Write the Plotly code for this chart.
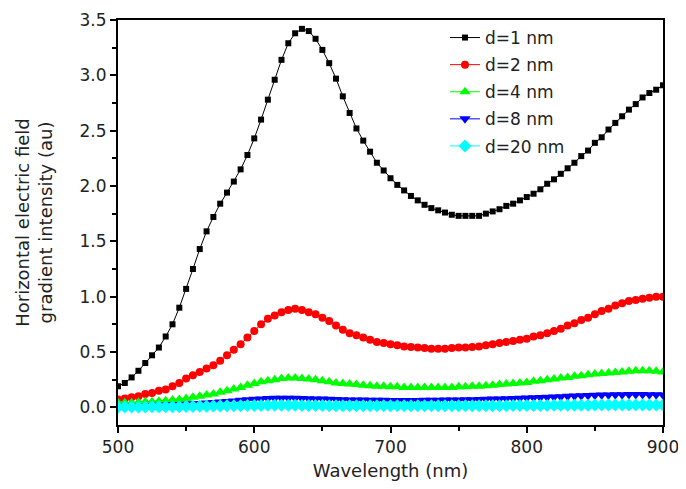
import plotly.graph_objects as go


####################################################
# DADOS
####################################################

wavelength = list(range(500, 905, 5))

d1 = [
    0.19, 0.22, 0.27, 0.33, 0.40, 0.47, 0.54, 0.64, 0.75, 0.90,
    1.07, 1.25, 1.43, 1.59, 1.72, 1.84, 1.94, 2.04, 2.15, 2.28,
    2.43, 2.60, 2.78, 2.96, 3.14, 3.29, 3.38, 3.42, 3.40, 3.33,
    3.23, 3.11, 2.97, 2.81, 2.66, 2.52, 2.41, 2.31, 2.21, 2.14,
    2.07, 2.01, 1.96, 1.91, 1.87, 1.83, 1.80, 1.78, 1.76, 1.74,
    1.73, 1.73, 1.73, 1.73, 1.75, 1.77, 1.79, 1.82, 1.84, 1.87,
    1.90, 1.93, 1.97, 2.02, 2.06, 2.11, 2.16, 2.21, 2.27, 2.32,
    2.39, 2.44, 2.51, 2.57, 2.63, 2.69, 2.74, 2.80, 2.84, 2.87,
    2.91
]

d2 = [
    0.07, 0.08, 0.09, 0.10, 0.12, 0.13, 0.15, 0.16, 0.19, 0.22,
    0.26, 0.29, 0.32, 0.35, 0.38, 0.42, 0.47, 0.52, 0.57, 0.63,
    0.69, 0.75, 0.80, 0.83, 0.86, 0.88, 0.89, 0.88, 0.86, 0.84,
    0.81, 0.78, 0.74, 0.70, 0.67, 0.65, 0.63, 0.61, 0.59, 0.58,
    0.57, 0.56, 0.55, 0.545, 0.54, 0.535, 0.53, 0.53, 0.53, 0.535,
    0.54, 0.54, 0.545, 0.55, 0.56, 0.57, 0.58, 0.59, 0.60, 0.61,
    0.62, 0.64, 0.65, 0.67, 0.69, 0.71, 0.74, 0.76, 0.79, 0.81,
    0.84, 0.87, 0.89, 0.92, 0.94, 0.96, 0.97, 0.98, 0.99, 1.00,
    1.00
]

d4 = [
    0.04, 0.04, 0.04, 0.045, 0.05, 0.05, 0.055, 0.06, 0.065, 0.07,
    0.08, 0.09, 0.10, 0.11, 0.12, 0.135, 0.15, 0.165, 0.18, 0.20,
    0.215, 0.23, 0.24, 0.25, 0.26, 0.265, 0.265, 0.26, 0.255, 0.25,
    0.24, 0.23, 0.22, 0.215, 0.21, 0.205, 0.20, 0.195, 0.19, 0.19,
    0.185, 0.185, 0.18, 0.18, 0.18, 0.18, 0.18, 0.18, 0.18, 0.18,
    0.185, 0.185, 0.19, 0.19, 0.195, 0.20, 0.205, 0.21, 0.215, 0.22,
    0.225, 0.235, 0.24, 0.25, 0.255, 0.265, 0.27, 0.28, 0.285, 0.295,
    0.30, 0.305, 0.31, 0.315, 0.32, 0.325, 0.33, 0.33, 0.33, 0.325,
    0.32
]

d8 = [
    0.010, 0.010, 0.010, 0.012, 0.014, 0.016, 0.018, 0.020, 0.022, 0.025,
    0.028, 0.031, 0.035, 0.039, 0.043, 0.048, 0.053, 0.058, 0.063, 0.068,
    0.072, 0.076, 0.079, 0.081, 0.082, 0.082, 0.081, 0.080, 0.078, 0.076,
    0.074, 0.072, 0.070, 0.068, 0.067, 0.066, 0.065, 0.064, 0.063, 0.063,
    0.062, 0.062, 0.062, 0.062, 0.062, 0.063, 0.063, 0.064, 0.065, 0.066,
    0.067, 0.068, 0.069, 0.071, 0.072, 0.074, 0.076, 0.078, 0.080, 0.082,
    0.084, 0.086, 0.089, 0.091, 0.094, 0.096, 0.099, 0.101, 0.104, 0.106,
    0.108, 0.110, 0.112, 0.113, 0.114, 0.115, 0.115, 0.115, 0.114, 0.113,
    0.112
]

d20 = [
    0.002, 0.002, 0.002, 0.003, 0.003, 0.004, 0.004, 0.005, 0.005, 0.006,
    0.007, 0.008, 0.009, 0.010, 0.011, 0.012, 0.013, 0.014, 0.015, 0.016,
    0.017, 0.017, 0.018, 0.018, 0.018, 0.018, 0.018, 0.017, 0.017, 0.016,
    0.016, 0.015, 0.015, 0.014, 0.014, 0.014, 0.013, 0.013, 0.013, 0.013,
    0.013, 0.013, 0.013, 0.013, 0.013, 0.013, 0.013, 0.013, 0.013, 0.013,
    0.013, 0.014, 0.014, 0.014, 0.014, 0.015, 0.015, 0.015, 0.016, 0.016,
    0.016, 0.017, 0.017, 0.017, 0.018, 0.018, 0.018, 0.019, 0.019, 0.019,
    0.020, 0.020, 0.020, 0.020, 0.021, 0.021, 0.021, 0.021, 0.021, 0.021,
    0.021
]

nomes = ["d=1 nm", "d=2 nm", "d=4 nm", "d=8 nm", "d=20 nm"]


####################################################
# GRÁFICO
####################################################

series = [
    (d1, "#000000", "square", 6),
    (d2, "#ff0000", "circle", 8),
    (d4, "#00ff00", "triangle-up", 10),
    (d8, "#0000ff", "triangle-down", 10),
    (d20, "#00ffff", "diamond", 10),
]

fig = go.Figure()

for nome, (valores, cor, simbolo, tamanho) in zip(nomes, series):

    fig.add_trace(go.Scatter(
        x=wavelength,
        y=valores,
        name=nome,
        legendgroup=nome,
        mode="lines+markers",
        line=dict(color=cor, width=1),
        marker=dict(symbol=simbolo, size=tamanho, color=cor)
    ))

eixo = dict(
    automargin=False,
    ticklabeloverflow="allow",
    showline=True,
    linecolor="black",
    linewidth=2,
    mirror=True,
    showgrid=False,
    zeroline=False,
    ticks="outside",
    ticklen=6,
    tickwidth=1.5,
    tickcolor="black",
    tickfont=dict(size=17, color="#222"),
)

fig.update_xaxes(
    eixo,
    range=[500, 900],
    dtick=100,
    minor=dict(dtick=50, ticks="outside", ticklen=4, tickcolor="black"),
    title_text="Wavelength (nm)",
    title_font=dict(size=18, color="#222"),
    title_standoff=8
)

fig.update_yaxes(
    eixo,
    range=[-0.16, 3.5],
    tick0=0,
    dtick=0.5,
    tickformat=".1f",
    minor=dict(dtick=0.25, ticks="outside", ticklen=4, tickcolor="black"),
    title_text="Horizontal electric field<br>gradient intensity (au)",
    title_font=dict(size=18, color="#222"),
    title_standoff=22
)

# a página tem 8 px de margem no body, por isso as margens estão deslocadas
fig.update_layout(
    width=686,
    height=489,
    template="simple_white",
    plot_bgcolor="white",
    paper_bgcolor="white",
    font=dict(family="DejaVu Sans, Arial", size=17, color="#222"),
    margin=dict(l=110, r=31, t=12, b=72),
    legend=dict(
        x=0.6,
        y=1.0,
        xanchor="left",
        yanchor="top",
        bgcolor="rgba(0,0,0,0)",
        font=dict(size=17),
        tracegroupgap=2
    )
)

fig.write_html("out.html")
